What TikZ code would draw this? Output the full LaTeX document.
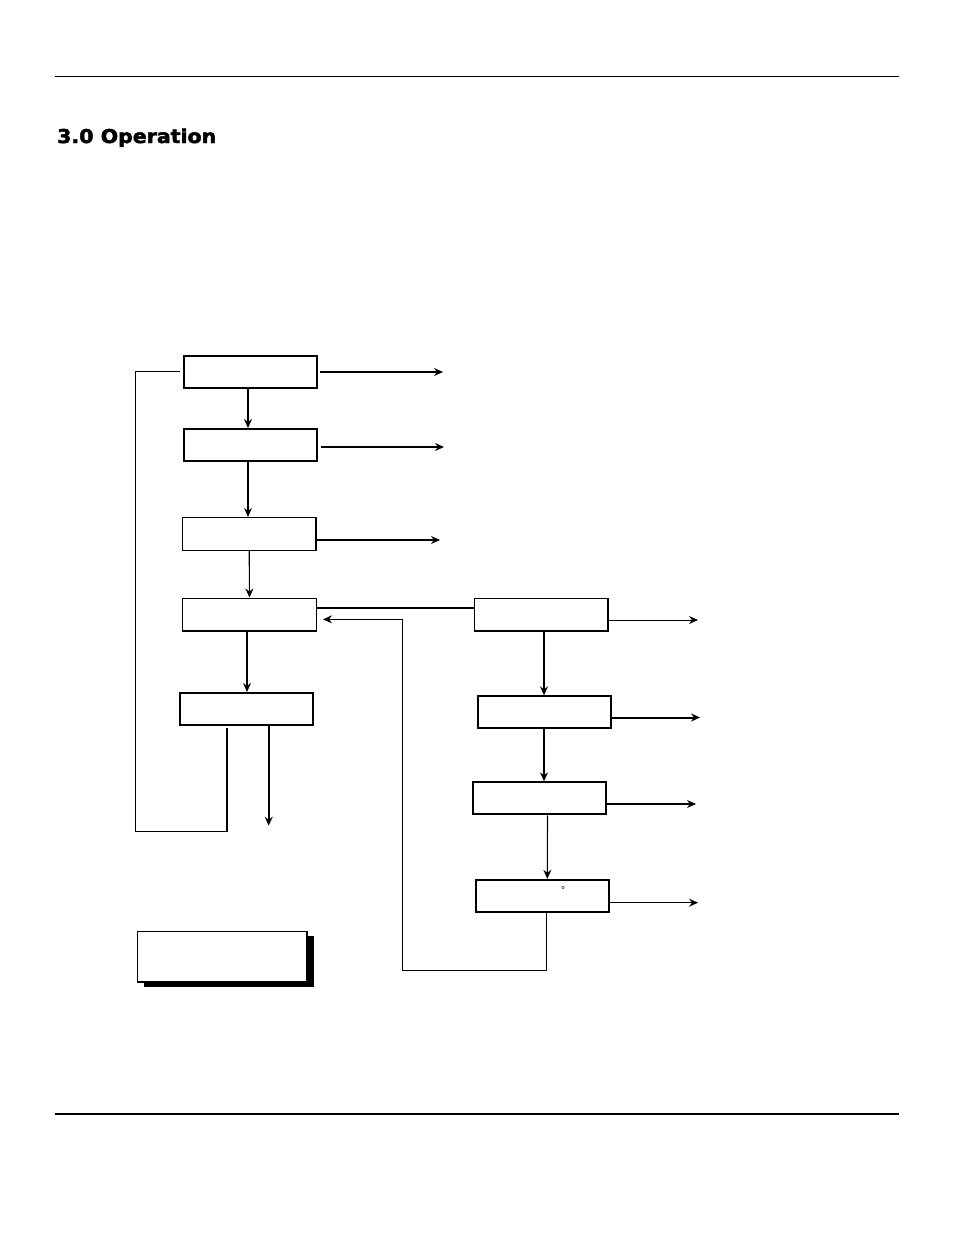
\documentclass[tikz,border=0pt]{standalone}
\usepackage{fontspec}
\setmainfont{Liberation Sans}
\newfontfamily\headfont{DejaVu Sans}[FakeStretch=1.08, BoldFeatures={FakeBold=2.5}]
\usetikzlibrary{arrows.meta,shadows}

\begin{document}
\begin{tikzpicture}[x=1pt,y=-1pt,
    arr/.style={-{Stealth[length=9pt,width=8pt,inset=3pt]}},
    wire/.style={line width=1.1pt},
    heavy/.style={line width=2pt},
    box/.style={draw, line width=1.3pt, fill=white, inner sep=0pt,
        minimum width=133.7pt, minimum height=32.7pt},
    heavybox/.style={box, line width=2pt,
        minimum width=133pt, minimum height=32pt}]
    %% Background
    \useasboundingbox[fill=white] (0,0) rectangle (954,1235);

    %% Page rules and heading
    \draw[line width=1pt] (55,76) to (899,76);
    \draw[line width=2pt] (55,1114) to (899,1114);
    \node[anchor=base west, inner sep=0pt] (title) at (57,143)
        {\headfont\bfseries\fontsize{19}{21}\selectfont 3.0 Operation};

    %% Left column
    \node[heavybox] (l1) at (250.5,371.5) {};
    \node[heavybox] (l2) at (250.5,445) {};
    \node[box]      (l3) at (249.2,534) {};
    \node[box]      (l4) at (249.5,614.5) {};
    \node[heavybox] (l5) at (246.5,709) {};

    %% Right column
    \node[box]      (r1) at (541,614.7) {};
    \node[heavybox] (r2) at (544,712.3) {};
    \node[heavybox] (r3) at (539.5,798.3) {};
    \node[heavybox] (r4) at (542.3,895.8) {};
    \node[inner sep=0pt, font=\fontsize{10}{10}\selectfont] (deg) at (563,890) {°};

    %% Note box
    \node[box, minimum width=169.7pt, minimum height=50.7pt,
        drop shadow={shadow xshift=6.5pt, shadow yshift=-4.5pt, fill=black, opacity=1}]
        (note) at (222.2,956.7) {};

    %% Down arrows
    \draw[wire, arr] ([xshift=-2.5pt]l1.south) to ([xshift=-2.5pt]l2.north);
    \draw[wire, arr] ([xshift=-2.5pt]l2.south) to ([xshift=-1.2pt]l3.north);
    \draw[wire, arr] (l3.south) to (l4.north);
    \draw[wire, arr] ([xshift=-2.5pt]l4.south) to ([xshift=0.5pt]l5.north);
    \draw[wire, arr] ([xshift=3pt]r1.south) to (r2.north);
    \draw[wire, arr] (r2.south) to ([xshift=4.5pt]r3.north);
    \draw[wire, arr] ([xshift=8pt]r3.south) to ([xshift=5pt]r4.north);

    %% Outputs
    \coordinate (o1) at (443,372);
    \coordinate (o2) at (444,447);
    \coordinate (o3) at (440,540);
    \coordinate (o4) at (698,620);
    \coordinate (o5) at (700,717.5);
    \coordinate (o6) at (696,804);
    \coordinate (o7) at (698,902.7);
    \coordinate (o8) at (268.7,825.7);
    \draw[wire, arr] ([xshift=2pt]l1.east |- o1) to (o1);
    \draw[wire, arr] ([xshift=3pt]l2.east |- o2) to (o2);
    \draw[wire, arr] (l3.east |- o3) to (o3);
    \draw[line width=1pt, arr] (r1.east |- o4) to (o4);
    \draw[heavy, arr] (r2.east |- o5) to (o5);
    \draw[wire, arr] (r3.east |- o6) to (o6);
    \draw[wire, arr] (r4.east |- o7) to (o7);
    \draw[heavy, arr] (l5.south -| o8) to (o8);

    %% Link between columns
    \coordinate (lnk) at (0,608.3);
    \draw[heavy] (l4.east |- lnk) to (r1.west |- lnk);

    %% Feedback loops
    \coordinate (fb) at (402.3,970.7);
    \coordinate (fbin) at (323,619.3);
    \draw[wire, arr] ([xshift=4pt]r4.south) |- (fb) |- (fbin);

    \coordinate (lp1) at (135.5,831.3);
    \coordinate (lp2) at (227,728.3);
    \draw[line width=1.5pt] ([xshift=-3pt]l1.west) -| (lp1) -| (lp2);
\end{tikzpicture}
\end{document}
